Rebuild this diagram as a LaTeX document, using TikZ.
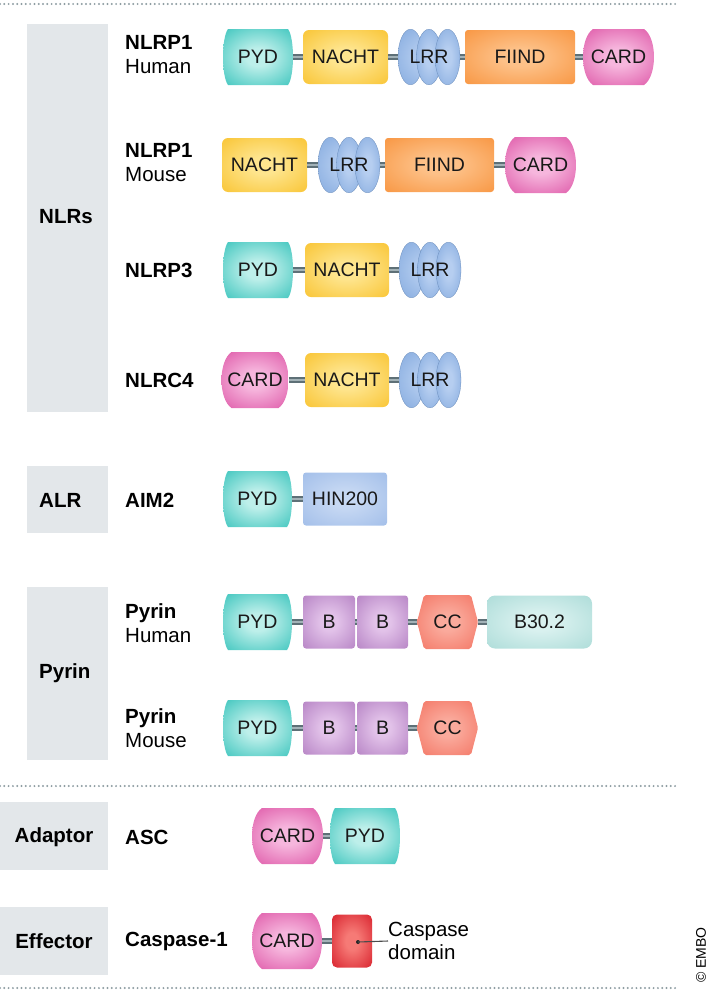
\documentclass[tikz,border=0pt]{standalone}
\usepackage{fontspec}
\setmainfont{Liberation Sans}
\usetikzlibrary{calc}

\definecolor{pydout}{HTML}{1FBBB3}
\definecolor{pydin}{HTML}{BDEFEA}
\definecolor{nachtout}{HTML}{F8BE22}
\definecolor{nachtin}{HTML}{FEE58E}
\definecolor{lrrout}{HTML}{7AA3DB}
\definecolor{lrrin}{HTML}{B6CEF0}
\definecolor{fiindout}{HTML}{F78E35}
\definecolor{fiindin}{HTML}{FDC188}
\definecolor{cardout}{HTML}{D8409A}
\definecolor{cardin}{HTML}{F6B6DD}
\definecolor{bout}{HTML}{AE78BE}
\definecolor{bin}{HTML}{E2C2E9}
\definecolor{ccout}{HTML}{F26B59}
\definecolor{ccin}{HTML}{FAAA9C}
\definecolor{bthout}{HTML}{A4D8D4}
\definecolor{bthin}{HTML}{D9F1EF}
\definecolor{hinout}{HTML}{9BB9E7}
\definecolor{hinin}{HTML}{C6D8F3}
\definecolor{caspout}{HTML}{D2111F}
\definecolor{caspin}{HTML}{F67A76}
\definecolor{catgray}{HTML}{E3E7EA}
\definecolor{dotgray}{HTML}{8E9DA2}
\definecolor{linkdark}{HTML}{5E7077}
\definecolor{linklight}{HTML}{A3B2B7}

\colorlet{domin}{white}
\colorlet{domout}{gray}
\pgfdeclareradialshading[domin,domout]{domshade}{\pgfpoint{0bp}{0bp}}{%
  color(0bp)=(domin); color(8bp)=(domin); color(42bp)=(domout); color(100bp)=(domout)}

\newcommand\domfont{\fontsize{19.5}{20}\selectfont}
\newcommand\labfont{\fontsize{20.5}{24}\selectfont}
% barrel outline (flat top and bottom, bulging sides), #1 = inset of the flat edges
\newcommand\barrelpath[1]{%
  \shade[shading=domshade]
    let \p1=(path picture bounding box.south west),
        \p2=(path picture bounding box.north east) in
    (\x1+#1,\y1) -- (\x2-#1,\y1)
    .. controls (\x2+#1/3,\y1+9) and (\x2+#1/3,\y2-9) .. (\x2-#1,\y2)
    -- (\x1+#1,\y2)
    .. controls (\x1-#1/3,\y2-9) and (\x1-#1/3,\y1+9) .. cycle;}

\tikzset{
  dom/.style={inner sep=0pt, minimum height=54, font=\domfont, text=black!90},
  tint/.style 2 args={/utils/exec={\colorlet{domout}{#1}\colorlet{domin}{#2}}},
  barrel/.style 2 args={dom, minimum height=56, minimum width=#1,
    path picture={\barrelpath{#2}}},
  pyd/.style={barrel={#1}{5}, tint={pydout}{pydin}}, pyd/.default=70,
  card/.style={barrel={#1}{10}, tint={cardout}{cardin}}, card/.default=71,
  nacht/.style={dom, minimum width=#1, rounded corners=6pt, shading=domshade,
    tint={nachtout}{nachtin}}, nacht/.default=85,
  fiind/.style={dom, minimum width=#1, rounded corners=3pt, shading=domshade,
    tint={fiindout}{fiindin}}, fiind/.default=110,
  hin/.style={dom, minimum width=84, minimum height=53, rounded corners=3pt,
    shading=domshade, tint={hinout}{hinin}},
  bdom/.style={dom, minimum width=#1, minimum height=53, rounded corners=3pt,
    shading=domshade, tint={bout}{bin}}, bdom/.default=52,
  bthirty/.style={dom, minimum width=105, minimum height=53, rounded corners=8pt,
    shading=domshade, tint={bthout}{bthin}},
  caspd/.style={dom, minimum width=40, minimum height=53, rounded corners=5pt,
    shading=domshade, tint={caspout}{caspin}},
  lrr/.style={dom, minimum height=56, minimum width=62, tint={lrrout}{lrrin},
    path picture={
      \foreach \k in {-1,0,1}
        \shade[shading=domshade, draw=lrrout!85!black, line width=0.3pt]
          ([xshift=\k*18.5pt]path picture bounding box.center)
          ellipse [x radius=12.5pt, y radius=27.8pt];}},
  ccd/.style={dom, minimum width=61, tint={ccout}{ccin},
    path picture={
      \shade[shading=domshade, rounded corners=2pt]
        let \p1=(path picture bounding box.south west),
            \p2=(path picture bounding box.north east) in
        (\x1,{(\y1+\y2)/2}) -- (\x1+7,\y1) -- (\x2-7,\y1) -- (\x2,{(\y1+\y2)/2})
        -- (\x2-7,\y2) -- (\x1+7,\y2) -- cycle;}},
  linker/.style={draw=linkdark, line width=1.6pt, double=linklight,
    double distance=2.6pt},
  catlab/.style={font=\labfont\bfseries, inner sep=0pt},
  protlab/.style={font=\labfont, align=left, anchor=west, inner sep=0pt},
  dotline/.style={dotgray, line width=2.2pt, line cap=round,
    dash pattern=on 0pt off 4.3pt}
}

\begin{document}
\begin{tikzpicture}[x=1pt, y=-1pt]
  \useasboundingbox (0,0) rectangle (709,993);

  \draw[dotline] (0,4) -- (678,4);
  \draw[dotline] (0,786) -- (678,786);
  \draw[dotline] (0,988) -- (678,988);

  % class boxes
  \fill[catgray] (27,24) rectangle (108,412);
  \fill[catgray] (27,466) rectangle (108,533);
  \fill[catgray] (27,587) rectangle (108,760);
  \fill[catgray] (0,802) rectangle (108,870);
  \fill[catgray] (0,907) rectangle (108,975);
  \node[catlab, anchor=west] (nlrs) at (39,217) {NLRs};
  \node[catlab, anchor=west] (alr) at (39,500) {ALR};
  \node[catlab, anchor=west] (pyrin) at (39,673) {Pyrin};
  \node[catlab] (adaptor) at (54,837) {Adaptor};
  \node[catlab] (effector) at (54,941) {Effector};

  % NLRP1 human
  \node[protlab] (hp) at (125,55) {\textbf{NLRP1}\\Human};
  \node[pyd] (hp-pyd) at (258,57) {PYD};
  \node[nacht] (hp-nacht) at (345.5,57) {NACHT};
  \node[lrr] (hp-lrr) at (429,57) {LRR};
  \node[fiind] (hp-fiind) at (520,57) {FIIND};
  \node[card] (hp-card) at (618.5,57) {CARD};
  \foreach \a/\b in {pyd/nacht,nacht/lrr,lrr/fiind,fiind/card}
    \draw[linker] (hp-\a.east) -- (hp-\b.west);

  % NLRP1 mouse
  \node[protlab] (mp) at (125,163) {\textbf{NLRP1}\\Mouse};
  \node[nacht] (mp-nacht) at (264.5,165) {NACHT};
  \node[lrr] (mp-lrr) at (349,165) {LRR};
  \node[fiind=109] (mp-fiind) at (439.5,165) {FIIND};
  \node[card] (mp-card) at (540.5,165) {CARD};
  \foreach \a/\b in {nacht/lrr,lrr/fiind,fiind/card}
    \draw[linker] (mp-\a.east) -- (mp-\b.west);

  % NLRP3
  \node[protlab, font=\labfont\bfseries] (p3) at (125,270) {NLRP3};
  \node[pyd] (p3-pyd) at (258,270) {PYD};
  \node[nacht=84] (p3-nacht) at (347,270) {NACHT};
  \node[lrr] (p3-lrr) at (430,270) {LRR};
  \draw[linker] (p3-pyd.east) -- (p3-nacht.west);
  \draw[linker] (p3-nacht.east) -- (p3-lrr.west);

  % NLRC4
  \node[protlab, font=\labfont\bfseries] (c4) at (125,380) {NLRC4};
  \node[card=67] (c4-card) at (255,380) {CARD};
  \node[nacht=84] (c4-nacht) at (347,380) {NACHT};
  \node[lrr] (c4-lrr) at (430,380) {LRR};
  \draw[linker] (c4-card.east) -- (c4-nacht.west);
  \draw[linker] (c4-nacht.east) -- (c4-lrr.west);

  % AIM2
  \node[protlab, font=\labfont\bfseries] (aim) at (125,500) {AIM2};
  \node[pyd=69] (aim-pyd) at (257.5,499) {PYD};
  \node[hin] (aim-hin) at (345,499) {HIN200};
  \draw[linker] (aim-pyd.east) -- (aim-hin.west);

  % Pyrin human
  \node[protlab] (ph) at (125,623) {\textbf{Pyrin}\\Human};
  \node[pyd=69] (ph-pyd) at (257.5,622) {PYD};
  \node[bdom] (ph-b1) at (329,622) {B};
  \node[bdom=51] (ph-b2) at (382.5,622) {B};
  \node[ccd] (ph-cc) at (447.5,622) {CC};
  \node[bthirty] (ph-bth) at (539.5,622) {B30.2};
  \foreach \a/\b in {pyd/b1,b1/b2,b2/cc,cc/bth}
    \draw[linker] (ph-\a.east) -- (ph-\b.west);

  % Pyrin mouse
  \node[protlab] (pm) at (125,728) {\textbf{Pyrin}\\Mouse};
  \node[pyd=69] (pm-pyd) at (257.5,728) {PYD};
  \node[bdom] (pm-b1) at (329,728) {B};
  \node[bdom=51] (pm-b2) at (382.5,728) {B};
  \node[ccd] (pm-cc) at (447.5,728) {CC};
  \foreach \a/\b in {pyd/b1,b1/b2,b2/cc}
    \draw[linker] (pm-\a.east) -- (pm-\b.west);

  % ASC
  \node[protlab, font=\labfont\bfseries] (asc) at (125,837) {ASC};
  \node[card] (asc-card) at (287.5,836) {CARD};
  \node[pyd] (asc-pyd) at (365,836) {PYD};
  \draw[linker] (asc-card.east) -- (asc-pyd.west);

  % Caspase-1
  \node[protlab, font=\labfont\bfseries] (casp) at (125,941) {Caspase-1};
  \node[card=70] (casp-card) at (287,941) {CARD};
  \node[caspd] (casp-dom) at (352,941) {};
  \draw[linker] (casp-card.east) -- (casp-dom.west);
  \coordinate (caspdot) at (358,942);
  \node[protlab, font=\fontsize{20.5}{23}\selectfont] (casplab) at (388,941) {Caspase\\domain};
  \fill[black!85] (caspdot) circle (2);
  \draw[black!70, line width=1.1pt] (caspdot) -- (casplab.west);

  \node[rotate=90, font=\fontsize{14}{16}\selectfont, inner sep=0pt] (embo) at (701,955) {© EMBO};
\end{tikzpicture}
\end{document}
